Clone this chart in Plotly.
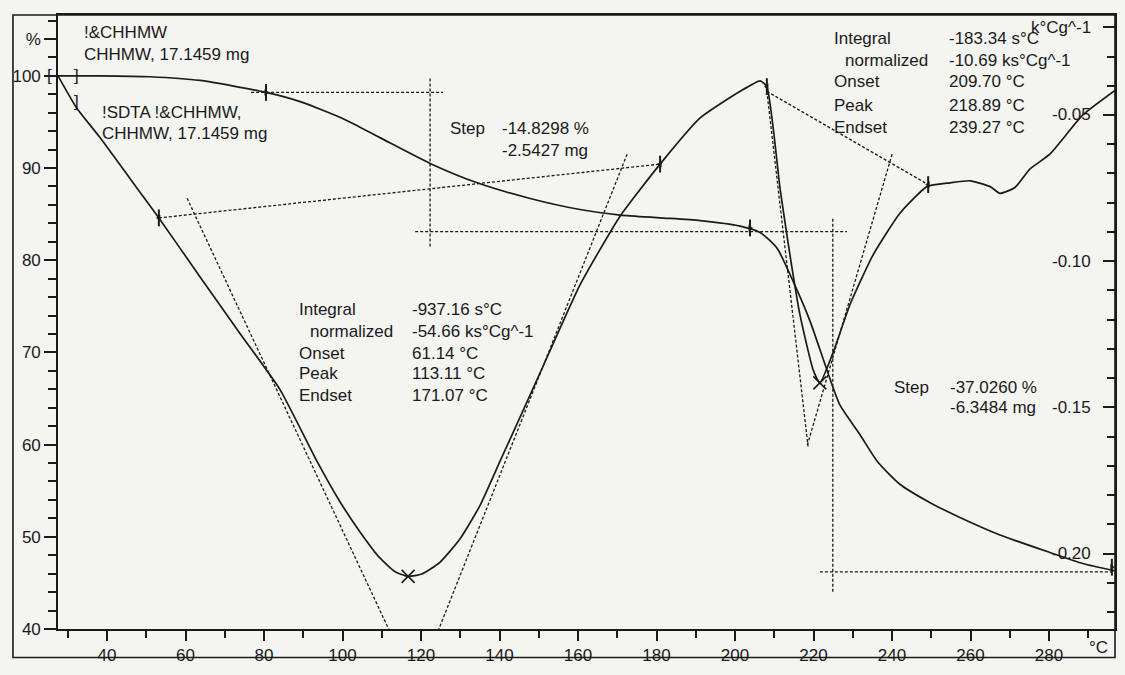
import plotly.graph_objects as go

# ---------------- data ----------------
# TGA curve (temperature in °C, mass in %)
tga_temp = [27.5, 38.2, 50.9, 63.7, 80.5, 89.2, 100.4, 109.5, 122.3, 134.3, 147.8,
            160.5, 170.7, 180.9, 191.1, 201.3, 206.4, 210.7, 214.8, 219.1, 223.4,
            226.7, 231.8, 236.2, 242.0, 249.7, 257.3, 267.5, 280.2, 288.6, 296.8]
tga_mass = [100.0, 100.0, 99.9, 99.5, 98.2, 97.2, 95.3, 93.3, 90.5, 88.4, 86.7,
            85.5, 84.9, 84.6, 84.3, 83.7, 83.0, 81.3, 77.7, 73.4, 68.1,
            64.3, 61.1, 58.2, 55.7, 53.7, 52.1, 50.2, 48.3, 47.1, 46.3]

# SDTA curve (temperature in °C, signal in k°C g^-1)
dta_temp = [27.5, 32.3, 38.2, 49.2, 53.2, 63.7, 73.9, 84.1, 93.5, 99.3, 104.4,
            109.5, 113.4, 116.7, 120.2, 124.8, 129.9, 135.0, 140.1, 150.3, 160.5,
            170.7, 180.9, 191.1, 201.3, 206.4, 208.1, 211.5, 214.0, 216.5, 219.9,
            221.6, 224.9, 229.3, 235.1, 242.0, 248.9, 254.8, 259.9, 265.0, 267.5,
            271.3, 275.1, 280.2, 288.6, 296.8]
dta_signal = [-0.0366, -0.0477, -0.0577, -0.0779, -0.0852, -0.1054, -0.1248, -0.1440,
              -0.1685, -0.1822, -0.1925, -0.2015, -0.2062, -0.2078, -0.2070, -0.2030,
              -0.1950, -0.1836, -0.1685, -0.1383, -0.1081, -0.0846, -0.0668, -0.0510,
              -0.0419, -0.0383, -0.0403, -0.0755, -0.0980, -0.1181, -0.1372, -0.1416,
              -0.1315, -0.1148, -0.0980, -0.0836, -0.0745, -0.0732, -0.0725, -0.0745,
              -0.0768, -0.0748, -0.0685, -0.0634, -0.0500, -0.0416]

# evaluation construction lines (TGA steps, % axis)
step1_top_x, step1_top_y = [76.7, 125.6], [98.2, 98.2]
step1_vert_x, step1_vert_y = [122.3, 122.3], [99.7, 81.4]
step1_low_x, step1_low_y = [118.5, 228.5], [83.1, 83.1]
step2_vert_x, step2_vert_y = [224.9, 224.9], [84.5, 44.0]
step2_low_x, step2_low_y = [221.6, 296.8], [46.2, 46.2]

# evaluation construction lines (SDTA peaks, right axis)
base1_x, base1_y = [53.2, 180.9], [-0.0852, -0.0668]
tan1a_x, tan1a_y = [60.4, 113.2], [-0.0785, -0.2300]
tan1b_x, tan1b_y = [172.5, 123.3], [-0.0634, -0.2300]
base2_x, base2_y = [208.1, 249.2], [-0.0419, -0.0738]
tan2a_x, tan2a_y = [208.1, 218.6], [-0.0419, -0.1634]
tan2b_x, tan2b_y = [240.0, 218.3], [-0.0634, -0.1634]

# markers
tga_flag_x, tga_flag_y = [80.5, 203.8, 296.0], [98.2, 83.5, 46.7]
dta_flag_x, dta_flag_y = [53.2, 180.9, 208.1, 249.2], [-0.0852, -0.0668, -0.0403, -0.0738]
dta_peak_x, dta_peak_y = [116.7, 221.6], [-0.2078, -0.1416]

# axis ticks
x_major = [40, 60, 80, 100, 120, 140, 160, 180, 200, 220, 240, 260, 280]
y_left_vals = [40, 50, 60, 70, 80, 90, 100, 104]
y_left_text = ["40", "50", "60", "70", "80", "90", "100", "%"]
y_right_vals = [-0.20, -0.15, -0.10, -0.05, -0.02]
y_right_text = ["-0.20", "-0.15", "-0.10", "-0.05", "k°Cg^-1"]

# ---------------- figure ----------------
INK = "#1a1a1a"
BG = "#f4f4f1"
FONT = "Liberation Sans, Arial, sans-serif"
FS = 17

fig = go.Figure()

def dashed(x, y, yaxis="y"):
    fig.add_trace(go.Scatter(x=x, y=y, mode="lines", yaxis=yaxis,
                             line=dict(color=INK, width=1.3, dash="3px,2px"),
                             showlegend=False, hoverinfo="skip"))

fig.add_trace(go.Scatter(x=tga_temp, y=tga_mass, mode="lines", yaxis="y",
                         line=dict(color=INK, width=1.7, shape="spline", smoothing=0.6),
                         showlegend=False, hoverinfo="skip"))
fig.add_trace(go.Scatter(x=dta_temp, y=dta_signal, mode="lines", yaxis="y2",
                         line=dict(color=INK, width=1.7, shape="spline", smoothing=0.5),
                         showlegend=False, hoverinfo="skip"))

for xs, ys in [(step1_top_x, step1_top_y), (step1_vert_x, step1_vert_y),
               (step1_low_x, step1_low_y), (step2_vert_x, step2_vert_y),
               (step2_low_x, step2_low_y)]:
    dashed(xs, ys)
for xs, ys in [(base1_x, base1_y), (tan1a_x, tan1a_y), (tan1b_x, tan1b_y),
               (base2_x, base2_y), (tan2a_x, tan2a_y), (tan2b_x, tan2b_y)]:
    dashed(xs, ys, "y2")

def markers(x, y, yaxis, symbol, size, width=2.0):
    fig.add_trace(go.Scatter(x=x, y=y, mode="markers", yaxis=yaxis,
                             marker=dict(symbol=symbol, size=size, color=INK,
                                         line=dict(color=INK, width=width)),
                             showlegend=False, hoverinfo="skip"))

markers(tga_flag_x, tga_flag_y, "y", "line-ns-open", 12)
markers(tga_flag_x, tga_flag_y, "y", "triangle-right", 5, 0.5)
markers(dta_flag_x, dta_flag_y, "y2", "line-ns-open", 12)
markers(dta_flag_x, dta_flag_y, "y2", "triangle-left", 5, 0.5)
markers(dta_peak_x, dta_peak_y, "y2", "x-thin-open", 13, 1.6)

# ---------------- text ----------------
texts = [
    (33.6, 104.7, "!&CHHMW"),
    (33.6, 102.3, "CHHMW, 17.1459 mg"),
    (38.2, 96.0, "!SDTA !&CHHMW,"),
    (38.2, 93.7, "CHHMW, 17.1459 mg"),
    (126.9, 94.3, "Step"),
    (140.1, 94.3, "-14.8298 %"),
    (140.1, 91.9, "-2.5427 mg"),
    (88.4, 74.7, "Integral"),
    (91.2, 72.3, "normalized"),
    (88.4, 69.9, "Onset"),
    (88.4, 67.7, "Peak"),
    (88.4, 65.3, "Endset"),
    (117.2, 74.7, "-937.16 s°C"),
    (117.2, 72.3, "-54.66 ks°Cg^-1"),
    (117.2, 69.9, "61.14 °C"),
    (117.2, 67.7, "113.11 °C"),
    (117.2, 65.3, "171.07 °C"),
    (224.7, 104.1, "Integral"),
    (227.5, 101.7, "normalized"),
    (224.7, 99.4, "Onset"),
    (224.7, 96.8, "Peak"),
    (224.7, 94.4, "Endset"),
    (254.0, 104.1, "-183.34 s°C"),
    (254.0, 101.7, "-10.69 ks°Cg^-1"),
    (254.0, 99.4, "209.70 °C"),
    (254.0, 96.8, "218.89 °C"),
    (254.0, 94.4, "239.27 °C"),
    (240.0, 66.2, "Step"),
    (254.3, 66.2, "-37.0260 %"),
    (254.3, 64.0, "-6.3484 mg"),
    (31.0, 100.0, "]"),
    (31.0, 97.2, "]"),
]
annotations = [dict(x=x, y=y, xref="x", yref="y", text=t, showarrow=False,
                    xanchor="left", yanchor="middle",
                    font=dict(family=FONT, size=FS, color=INK)) for x, y, t in texts]
# right-axis tick labels, drawn inside the plot next to the axis
for v, t in zip(y_right_vals, y_right_text):
    annotations.append(dict(x=0.9795, y=v, xref="paper", yref="y2", text=t,
                            showarrow=False, xanchor="right", yanchor="middle",
                            font=dict(family=FONT, size=FS, color=INK)))
annotations.append(dict(x=-0.008, y=(100 - 40) / (106.6 - 40), xref="paper", yref="paper",
                        text="[", showarrow=False, xanchor="center", yanchor="middle",
                        font=dict(family=FONT, size=FS, color=INK)))
annotations.append(dict(x=0.984, y=-0.012, xref="paper", yref="paper", text="°C",
                        showarrow=False, xanchor="center", yanchor="top",
                        font=dict(family=FONT, size=FS, color=INK)))

fig.update_layout(
    width=1125, height=675, autosize=False,
    margin=dict(l=58, r=10, t=15, b=34),
    paper_bgcolor=BG, plot_bgcolor=BG,
    font=dict(family=FONT, size=FS, color=INK),
    showlegend=False,
    annotations=annotations,
    shapes=[dict(type="rect", xref="paper", yref="paper", x0=-0.0426, x1=1.0,
                 y0=-0.0463, y1=1.0, line=dict(color=INK, width=1.6), layer="above")],
    xaxis=dict(range=[27.5, 296.8], showgrid=False, zeroline=False,
               showline=True, linecolor=INK, linewidth=1.6, mirror=True,
               tickmode="array", tickvals=x_major, ticks="outside", ticklen=10,
               tickwidth=1.5, tickcolor=INK,
               minor=dict(tickmode="linear", tick0=30, dtick=10, ticks="outside",
                          ticklen=7, tickwidth=1.5, tickcolor=INK),
               tickfont=dict(family=FONT, size=FS, color=INK)),
    yaxis=dict(range=[40, 106.6], showgrid=False, zeroline=False,
               showline=True, linecolor=INK, linewidth=1.6,
               tickmode="array", tickvals=y_left_vals, ticktext=y_left_text,
               ticks="outside", ticklen=12, tickwidth=1.5, tickcolor=INK,
               minor=dict(tickmode="linear", tick0=40, dtick=2, ticks="outside",
                          ticklen=8, tickwidth=1.5, tickcolor=INK),
               tickfont=dict(family=FONT, size=FS, color=INK)),
    yaxis2=dict(range=[-0.2258, -0.0158], overlaying="y", side="right",
                showgrid=False, zeroline=False,
                showline=True, linecolor=INK, linewidth=1.6,
                tickmode="array", tickvals=y_right_vals, showticklabels=False,
                ticks="inside", ticklen=12, tickwidth=1.5, tickcolor=INK,
                minor=dict(tickmode="linear", tick0=-0.20, dtick=0.01, ticks="inside",
                           ticklen=8, tickwidth=1.5, tickcolor=INK)),
)

fig.write_html("out.html")
